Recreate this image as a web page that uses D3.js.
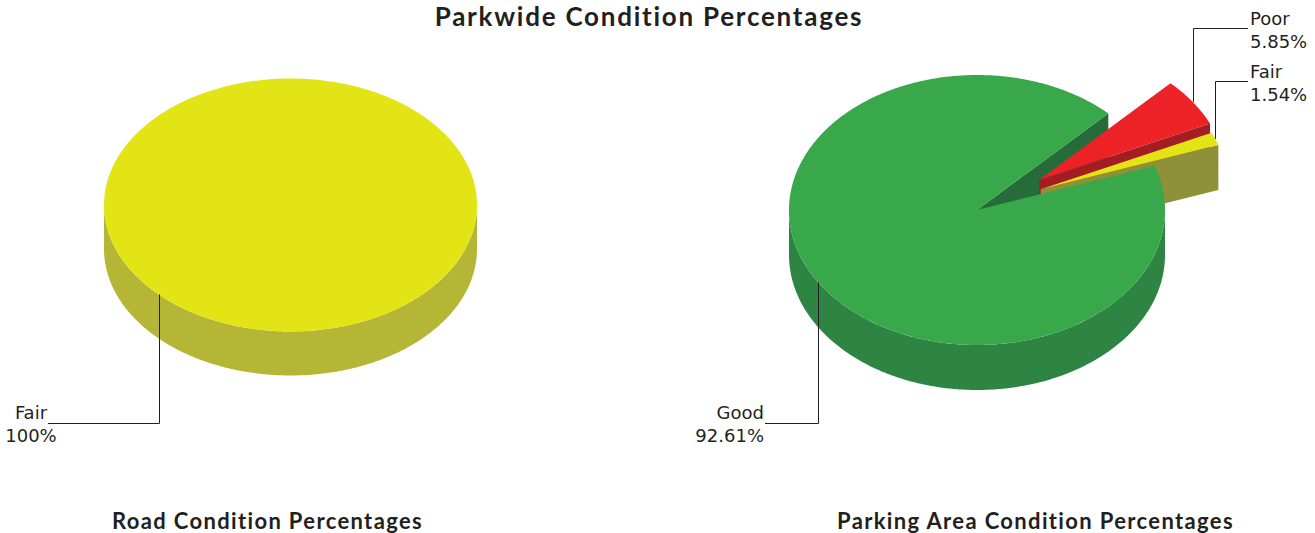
<!DOCTYPE html>
<html>
<head>
<meta charset="utf-8">
<script src="https://cdn.jsdelivr.net/npm/d3@7"></script>
<style>
  body { margin: 0; background: #fff; }
  svg { display: block; }
</style>
</head>
<body>
<div class="canva"></div>
<script>
// data
const roadCategories = ["Fair"];
const roadValues = [100];
const parkingCategories = ["Good", "Fair", "Poor"];
const parkingValues = [92.61, 1.54, 5.85];

const width = 1315, height = 533;

const colors = {
  Good: {top: "#38a84a", side: "#2e8543", wall: "#266b3a"},
  Fair: {top: "#e3e416", side: "#b5b536", wall: "#8f913a"},
  Poor: {top: "#ec2227", side: "#b81e24", wall: "#a31d22"}
};

const svg = d3.select(".canva").append("svg")
    .attr("width", width)
    .attr("height", height);

const line = d3.line();
const toRad = Math.PI / 180;

function drawPie(cats, vals, o) {
  const g = svg.append("g");
  const k = o.ry / o.rx;
  const pie = d3.pie().sort(null)
      .startAngle(o.start * toRad)
      .endAngle(o.start * toRad - 2 * Math.PI);

  const slices = pie(vals).map((d, i) => {
    const a0 = Math.min(d.startAngle, d.endAngle);
    const a1 = Math.max(d.startAngle, d.endAngle);
    const mid = (a0 + a1) / 2;
    // explode: [distance, direction in degrees]
    const ex = o.explode[cats[i]] || [0, 0];
    return {
      name: cats[i], value: vals[i], a0, a1, mid, e: ex[0],
      ox: o.cx + ex[0] * Math.sin(ex[1] * toRad),
      oy: o.cy - ex[0] * k * Math.cos(ex[1] * toRad)
    };
  });

  const pt = (s, a, r, h) => [s.ox + r * o.rx * Math.sin(a), s.oy - r * o.ry * Math.cos(a) + h];
  const arcPts = (s, b0, b1, h) => {
    const n = Math.max(2, Math.ceil((b1 - b0) / 0.01));
    return d3.range(n + 1).map(j => pt(s, b0 + (b1 - b0) * j / n, 1, h));
  };

  // back to front: fixed slices first, then exploded ones
  const order = slices.slice().sort((a, b) => (a.e > 0) - (b.e > 0) || Math.cos(b.mid) - Math.cos(a.mid));

  order.forEach(s => {
    const c = colors[s.name];
    const full = s.a1 - s.a0 >= 2 * Math.PI - 1e-6;
    if (!full) {
      if (Math.sin(s.a0) < 0) {
        g.append("path").attr("fill", c.wall)
          .attr("d", line([pt(s, s.a0, 0, 0), pt(s, s.a0, 1, 0), pt(s, s.a0, 1, o.depth), pt(s, s.a0, 0, o.depth)]) + "Z");
      }
      if (Math.sin(s.a1) > 0) {
        g.append("path").attr("fill", c.wall)
          .attr("d", line([pt(s, s.a1, 0, 0), pt(s, s.a1, 1, 0), pt(s, s.a1, 1, o.depth), pt(s, s.a1, 0, o.depth)]) + "Z");
      }
    }
    // outer wall, front half only
    for (let m = -2; m <= 2; m++) {
      const v0 = Math.max(s.a0, Math.PI / 2 + 2 * Math.PI * m);
      const v1 = Math.min(s.a1, 3 * Math.PI / 2 + 2 * Math.PI * m);
      if (v1 > v0) {
        const pts = arcPts(s, v0, v1, 0).concat(arcPts(s, v0, v1, o.depth).reverse());
        g.append("path").attr("fill", c.side).attr("d", line(pts) + "Z");
      }
    }
  });

  order.forEach(s => {
    const full = s.a1 - s.a0 >= 2 * Math.PI - 1e-6;
    const pts = arcPts(s, s.a0, s.a1, 0);
    if (!full) pts.unshift(pt(s, s.a0, 0, 0));
    g.append("path").attr("fill", colors[s.name].top).attr("d", line(pts) + "Z");
  });

  // leaders and labels
  slices.forEach(s => {
    const L = o.labels[s.name];
    const p = pt(s, s.mid, 1, 0);
    svg.append("path")
      .attr("fill", "none")
      .attr("stroke", "#231f20")
      .attr("stroke-width", 1)
      .attr("d", line([[Math.round(p[0]) + 0.5, p[1]], [Math.round(p[0]) + 0.5, L.kneeY], [L.endX, L.kneeY]]));
    const t = svg.append("text")
      .attr("font-family", "'DejaVu Sans', sans-serif")
      .attr("font-size", 18)
      .attr("fill", "#231f20")
      .attr("text-anchor", L.anchor);
    t.append("tspan").attr("x", L.x).attr("y", L.y).text(s.name);
    t.append("tspan").attr("x", L.x).attr("y", L.y + 23).text(s.value + "%");
  });
}

drawPie(roadCategories, roadValues, {
  cx: 290.5, cy: 205, rx: 186.5, ry: 126.5, depth: 44, start: 45,
  explode: {},
  labels: {Fair: {kneeY: 423.5, endX: 48, anchor: "middle", x: 31, y: 419}}
});

drawPie(parkingCategories, parkingValues, {
  cx: 977, cy: 210, rx: 188, ry: 135, depth: 45, start: 44.3,
  explode: {Poor: [75, 56], Fair: [70, 65.5]},
  labels: {
    Good: {kneeY: 423.5, endX: 765, anchor: "end", x: 764, y: 419},
    Poor: {kneeY: 28.5, endX: 1248, anchor: "start", x: 1250, y: 25},
    Fair: {kneeY: 81.5, endX: 1248, anchor: "start", x: 1250, y: 78}
  }
});

// titles
const titleFont = (sel, size, spacing) => sel
  .attr("text-anchor", "middle")
  .attr("font-family", "Lato, sans-serif")
  .attr("font-weight", "bold")
  .attr("font-size", size)
  .attr("letter-spacing", spacing)
  .attr("fill", "#231f20");

svg.append("text")
  .attr("x", 649).attr("y", 26)
  .call(titleFont, 26, 1.75)
  .text("Parkwide Condition Percentages");

svg.append("text")
  .attr("x", 267.5).attr("y", 529)
  .call(titleFont, 22, 1.35)
  .text("Road Condition Percentages");

svg.append("text")
  .attr("x", 1035.5).attr("y", 529)
  .call(titleFont, 22, 1.35)
  .text("Parking Area Condition Percentages");
</script>
</body>
</html>
